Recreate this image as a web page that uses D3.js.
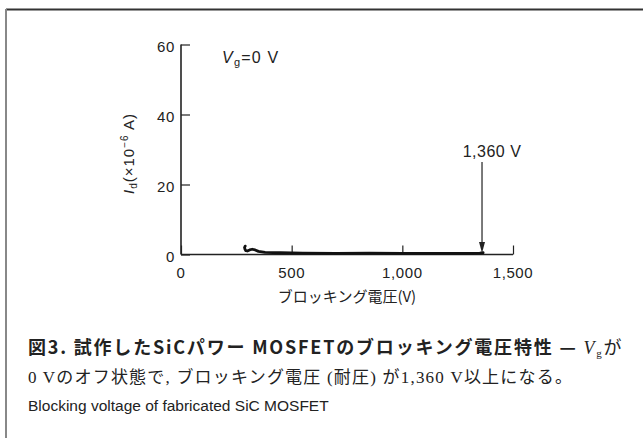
<!DOCTYPE html>
<html><head><meta charset="utf-8">
<script src="https://cdn.jsdelivr.net/npm/d3@7"></script>
<style>body{margin:0;background:#fff}svg{display:block}</style>
</head><body>
<script>
const voltage = [290, 287, 289, 293, 300, 310, 322, 335, 350, 380, 450, 550, 700, 850, 1000, 1150, 1250, 1320, 1350, 1365];
const current = [2.4, 2.0, 1.5, 1.1, 1.0, 1.3, 1.5, 1.3, 0.9, 0.6, 0.5, 0.4, 0.35, 0.4, 0.35, 0.3, 0.3, 0.35, 0.4, 0.5];
const xTicks = [0, 500, 1000, 1500];
const xTickLabels = ["0", "500", "1,000", "1,500"];
const yTicks = [0, 20, 40, 60];
const breakdownV = 1360;
const breakdownLabel = "1,360 V";

const W = 643, H = 438;
const svg = d3.select("body").append("svg").attr("width", W).attr("height", H);

// frame
svg.append("line").attr("x1",6).attr("x2",W).attr("y1",9.5).attr("y2",9.5).attr("stroke","#333").attr("stroke-width",2);
svg.append("line").attr("x1",6).attr("x2",6).attr("y1",9).attr("y2",H).attr("stroke","#888").attr("stroke-width",2);

const x = d3.scaleLinear().domain([0,1500]).range([181,513]);
const y = d3.scaleLinear().domain([0,60]).range([254.5,44.5]);
const sans = "'Liberation Sans', Arial, sans-serif";

const xAxis = svg.append("g").attr("transform",`translate(0,${y(0)})`)
  .call(d3.axisTop(x).tickValues(xTicks).tickSize(9).tickFormat(""));
const yAxis = svg.append("g").attr("transform",`translate(${x(0)},0)`)
  .call(d3.axisRight(y).tickValues(yTicks).tickSize(9).tickFormat(""));
[xAxis,yAxis].forEach(g=>{
  g.select(".domain").attr("stroke","#222").attr("stroke-width",1.6);
  g.selectAll(".tick line").attr("stroke","#222").attr("stroke-width",1.2);
});
xAxis.select(".domain").attr("d",`M${x(0)},0H${x(1500)}`);
yAxis.select(".domain").attr("d",`M0,${y(0)}V${y(60)}`);

svg.append("g").selectAll("text").data(xTicks).join("text")
  .attr("x",d=>x(d)).attr("y",y(0)+23).attr("text-anchor","middle")
  .attr("font-family",sans).attr("font-size",15).attr("letter-spacing",0.6).attr("fill","#222")
  .text((d,i)=>xTickLabels[i]);
svg.append("g").selectAll("text").data(yTicks).join("text")
  .attr("x",x(0)-6).attr("y",d=>y(d)+7).attr("text-anchor","end")
  .attr("font-family",sans).attr("font-size",15).attr("letter-spacing",0.6).attr("fill","#222")
  .text(d=>d);

// axis titles
svg.append("text").attr("x",347).attr("y",302).attr("text-anchor","middle")
  .attr("font-family","'Noto Sans CJK JP', sans-serif").attr("font-size",15).attr("fill","#222")
  .text("ブロッキング電圧(V)");
const yl = svg.append("text").attr("transform","translate(134,153.5) rotate(-90)").attr("text-anchor","middle")
  .attr("font-family",sans).attr("font-size",15).attr("letter-spacing",1).attr("fill","#222");
yl.append("tspan").attr("font-style","italic").text("I");
yl.append("tspan").attr("font-size",10).attr("dy",3).text("d");
yl.append("tspan").attr("dy",-3).text("(×10");
yl.append("tspan").attr("font-size",10).attr("dy",-6).text("−6");
yl.append("tspan").attr("dy",6).text(" A)");

// Vg label
const vg = svg.append("text").attr("x",222).attr("y",63).attr("font-family",sans).attr("font-size",16).attr("letter-spacing",1.2).attr("fill","#222");
vg.append("tspan").attr("font-style","italic").text("V");
vg.append("tspan").attr("font-size",11).attr("dy",3).text("g");
vg.append("tspan").attr("dy",-3).text("=0 V");

// curve
const pts = voltage.map((v,i)=>[v,current[i]]);
svg.append("path").datum(pts)
  .attr("d",d3.line().x(d=>x(d[0])).y(d=>y(d[1])).curve(d3.curveLinear))
  .attr("fill","none").attr("stroke","#111").attr("stroke-width",2.8).attr("stroke-linejoin","round").attr("stroke-linecap","round");

// arrow
const ax = x(breakdownV);
svg.append("line").attr("x1",ax).attr("x2",ax).attr("y1",162).attr("y2",244).attr("stroke","#222").attr("stroke-width",1.2);
svg.append("path").attr("d",`M${ax-3},242L${ax+3},242L${ax},253Z`).attr("fill","#222");
svg.append("text").attr("x",ax+10).attr("y",157).attr("text-anchor","middle")
  .attr("font-family",sans).attr("font-size",16).attr("letter-spacing",0.5).attr("fill","#222").text(breakdownLabel);

// caption
const c1 = svg.append("text").attr("x",28).attr("y",354).attr("font-family","'Noto Sans CJK JP', sans-serif")
  .attr("font-size",18).attr("font-weight","bold").attr("letter-spacing",1.8).attr("fill","#222");
c1.append("tspan").text("図3.  試作したSiCパワー MOSFETのブロッキング電圧特性 — ");
c1.append("tspan").attr("font-family","'Liberation Serif', serif").attr("font-style","italic").attr("font-weight","normal").text("V");
c1.append("tspan").attr("font-family","'Liberation Serif', serif").attr("font-weight","normal").attr("font-size",11).attr("dy",3).text("g");
c1.append("tspan").attr("dy",-3).attr("font-weight","normal").text("が");
svg.append("text").attr("x",28).attr("y",383).attr("font-family","'Liberation Serif', 'Noto Sans CJK JP', serif")
  .attr("font-size",17).attr("letter-spacing",1.2).attr("fill","#222")
  .text("0 Vのオフ状態で, ブロッキング電圧 (耐圧) が1,360 V以上になる。");
svg.append("text").attr("x",28).attr("y",411).attr("font-family","'Liberation Sans Narrow', 'Arial Narrow', sans-serif")
  .attr("font-size",15.5).attr("fill","#222")
  .text("Blocking voltage of fabricated SiC MOSFET");
</script>
</body></html>
